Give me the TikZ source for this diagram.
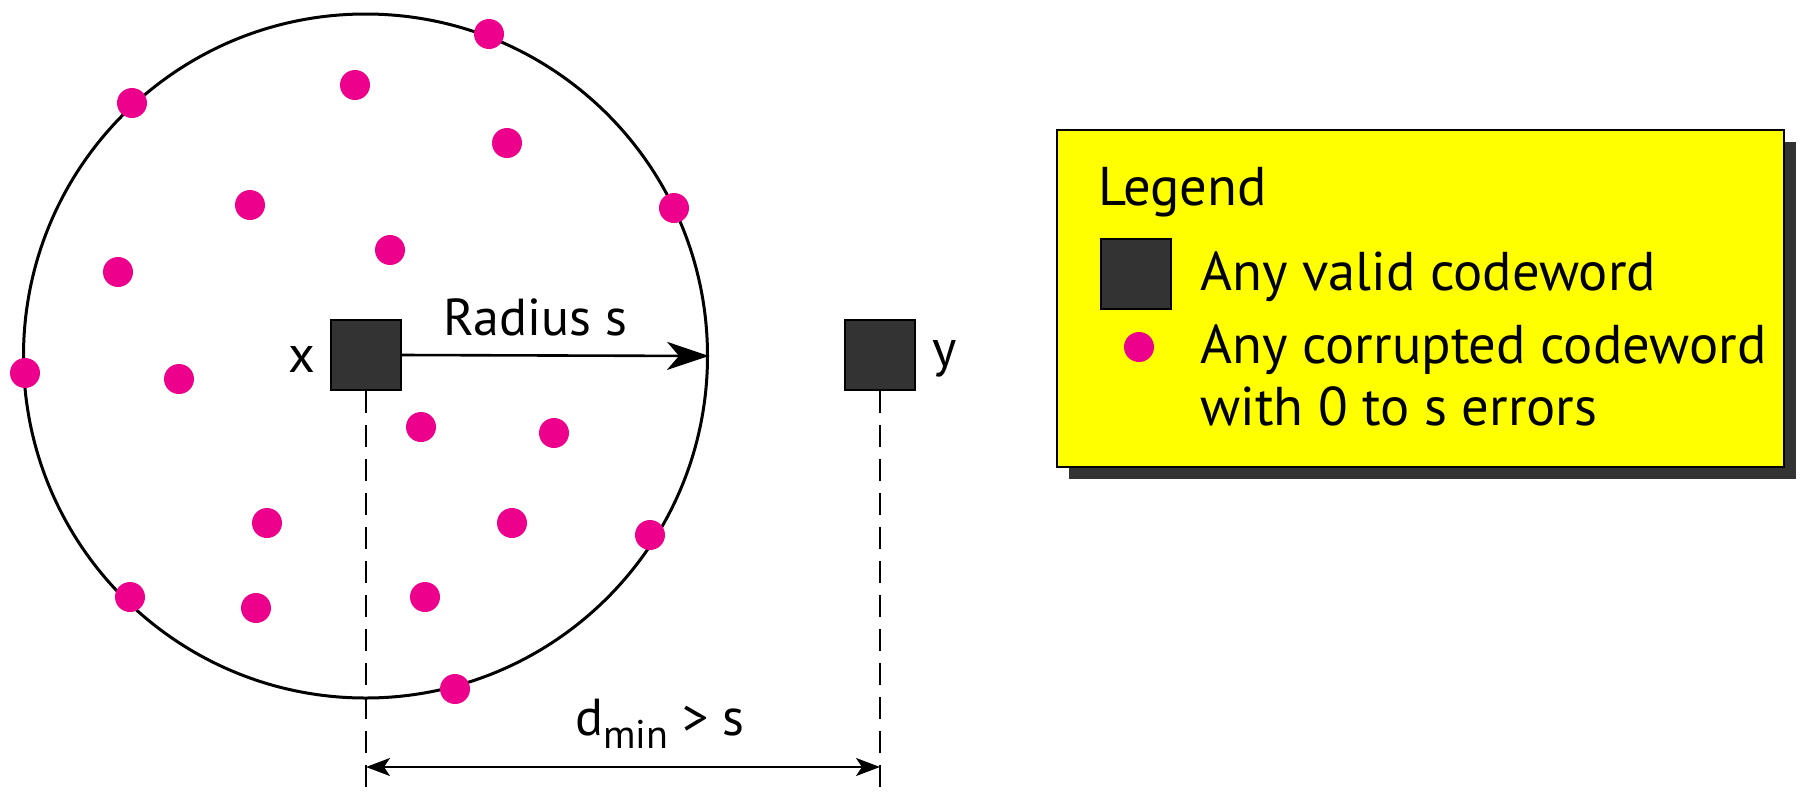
\documentclass[tikz,border=0pt]{standalone}
\usepackage{fontspec}
\setmainfont{PT Sans}
\usetikzlibrary{arrows.meta,shadows}
\definecolor{dotc}{RGB}{236,0,140}
\definecolor{sqc}{RGB}{51,51,51}
\definecolor{legc}{RGB}{255,255,0}
\tikzset{
  cw/.style={draw=black, fill=sqc, line width=1.2pt, minimum size=35pt, inner sep=0pt},
  pt/.style={fill=dotc},
  lbl/.style={font=\fontsize{26}{30}\selectfont, inner sep=0pt},
  leglbl/.style={font=\fontsize{27.3}{30}\selectfont, inner sep=0pt},
  dsh/.style={line width=0.8pt, dash pattern=on 11pt off 6pt},
}
\begin{document}
\begin{tikzpicture}[x=0.5pt,y=-0.5pt]
\useasboundingbox (0,0) rectangle (1800,794);
% big circle
\node[circle, draw, line width=1.5pt, minimum size=342pt, inner sep=0pt] (ball) at (365.5,356) {};
% corrupted codewords
\foreach \px/\py in {489/34,132/103,355/85,507/143,674/208,250/205,390/250,118/272,25/373,179/379,421/427,554/433,267/523,512/523,650/535,130/597,256/608,425/597,455/689}
  \fill[pt] (\px,\py) circle [radius=15];
% valid codewords
\node[cw] (x) at (366,355) {};
\node[cw] (y) at (880,355) {};
\node[lbl, anchor=base] (xl) at (302,372) {x};
\node[lbl, anchor=base] (yl) at (945,366) {y};
% radius arrow
\draw[line width=1.3pt, -{Stealth[length=21pt, width=14pt, inset=6pt]}] (x.east) -- (ball.east);
\node[lbl, anchor=base west] (rad) at (443,335) {Radius s};
% dashed lines
\coordinate (xb) at (366,794);
\coordinate (yb) at (880,794);
\draw[dsh] (x.south) -- (xb);
\draw[dsh] (y.south) -- (yb);
\coordinate (dl) at (366,767);
\coordinate (dr) at (880,767);
\draw[line width=1pt, {Stealth[length=12pt, width=9pt, inset=3pt]}-{Stealth[length=12pt, width=9pt, inset=3pt]}] (dl) -- (dr);
\node[lbl, anchor=base west] (dmin) at (575,735) {d\raisebox{-0.5ex}{\fontsize{20}{22}\selectfont min} > s};
% legend
\node[draw=black, line width=1.2pt, fill=legc, minimum width=363.5pt, minimum height=168.5pt, inner sep=0pt,
  drop shadow={shadow xshift=6pt, shadow yshift=-6pt, fill=sqc, opacity=1}] (leg) at (1420.5,298.5) {};
\node[leglbl, anchor=base west] (legt) at (1098,205) {Legend};
\node[cw] (lsq) at (1136,274) {};
\node[leglbl, anchor=base west] (l1) at (1200,290) {Any valid codeword};
\fill[pt] (1139,347) circle [radius=15];
\node[leglbl, anchor=base west] (l2) at (1200,363) {Any corrupted codeword};
\node[leglbl, anchor=base west] (l3) at (1200,425) {with 0 to s errors};
\end{tikzpicture}
\end{document}
